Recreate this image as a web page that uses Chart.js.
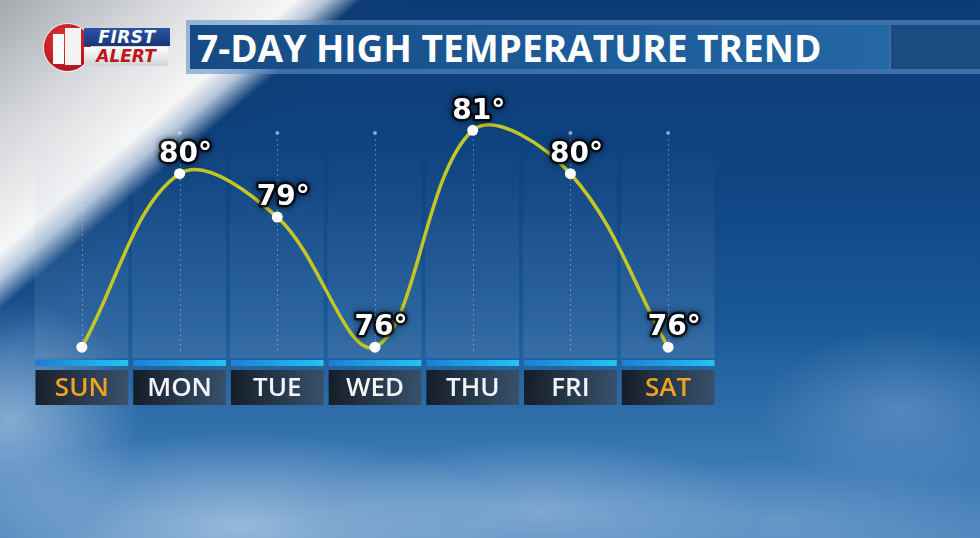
<!DOCTYPE html>
<html>
<head>
<meta charset="utf-8">
<script src="https://cdn.jsdelivr.net/npm/chart.js@4.4.0/dist/chart.umd.min.js"></script>
<style>
html, body { margin: 0; padding: 0; width: 980px; height: 538px; overflow: hidden; background: #134c88; }
#bg {
    position: absolute; left: 0; top: 0; width: 980px; height: 538px;
    background:
        linear-gradient(139.5deg, #a4a8ad 0%, #d6d8db 10%, #f6f6f7 18.3%, rgba(235,240,246,0.75) 20.3%, rgba(20,60,110,0.25) 22.5%, rgba(20,60,110,0) 26%),
        radial-gradient(ellipse 280px 90px at 240px 525px, rgba(200,218,238,0.6), rgba(200,218,238,0) 100%),
        radial-gradient(ellipse 220px 70px at 540px 510px, rgba(180,205,232,0.5), rgba(180,205,232,0) 100%),
        radial-gradient(ellipse 130px 120px at 10px 420px, rgba(190,210,235,0.6), rgba(190,210,235,0) 100%),
        radial-gradient(ellipse 140px 80px at 900px 410px, rgba(150,185,222,0.35), rgba(150,185,222,0) 100%),
        radial-gradient(ellipse 220px 60px at 780px 520px, rgba(150,185,222,0.35), rgba(150,185,222,0) 100%),
        linear-gradient(180deg, #0c3b74 0%, #0f4584 35%, #1a5897 60%, #3a78b4 85%, #5088bd 100%);
}
#logo { position: absolute; left: 44px; top: 24px; width: 130px; height: 50px; }
#logo .circle {
    position: absolute; left: 0; top: 0; width: 47px; height: 47px; border-radius: 50%;
    background: radial-gradient(circle at 40% 35%, #e2383a, #b8161c 70%, #8c0e12);
    box-shadow: 0 0 0 1px rgba(255,255,255,0.7);
}
#logo .one-a { position: absolute; left: 9px; top: 10px; width: 11px; height: 30px; background: #fbfbfb; }
#logo .one-b { position: absolute; left: 21px; top: 4px; width: 16px; height: 37px; background: #f3f3f3; }
#logo .first {
    position: absolute; left: 40px; top: 4px; width: 86px; height: 18px;
    background: linear-gradient(180deg, #2c53a8, #1a3679); color: #fff;
    font: italic 800 17px "DejaVu Sans", sans-serif; line-height: 18px; text-align: center; letter-spacing: 0.5px;
}
#logo .alert {
    position: absolute; left: 40px; top: 23px; width: 84px; height: 19px;
    background: linear-gradient(180deg, #ffffff, #cfd2d6);
    color: #c0151c; font: italic 800 17px "DejaVu Sans", sans-serif; line-height: 19px; text-align: center;
}
#titleframe { position: absolute; left: 186px; top: 20px; width: 794px; height: 54px; background: rgba(95,145,200,0.6); }
#titlebox {
    position: absolute; left: 190px; top: 25px; width: 699px; height: 44px;
    background: linear-gradient(90deg, #164a83 0%, #1c5b98 55%, #2467a5 100%);
}
#titleend { position: absolute; left: 891px; top: 25px; width: 89px; height: 44px; background: #1a4c80; }
#title {
    position: absolute; left: 197px; top: 25px; height: 44px; line-height: 46px;
    color: #fff; font-family: "Open Sans", sans-serif; font-weight: 700; white-space: nowrap;
}
#chart { position: absolute; left: 0; top: 0; }
</style>
</head>
<body>
<div id="bg"></div>
<div id="logo">
    <div class="circle"></div>
    <div class="one-a"></div>
    <div class="one-b"></div>
    <div class="first">FIRST</div>
    <div class="alert">ALERT</div>
</div>
<div id="titleframe"></div>
<div id="titlebox"></div>
<div id="titleend"></div>
<div id="title">7-DAY HIGH TEMPERATURE TREND</div>
<canvas id="chart" width="980" height="538"></canvas>
<script>
const titleText = '7-DAY HIGH TEMPERATURE TREND';
const days = ['SUN', 'MON', 'TUE', 'WED', 'THU', 'FRI', 'SAT'];
const highs = [76, 80, 79, 76, 81, 80, 76];
// the graphic shows no value above Sunday
const showValue = [false, true, true, true, true, true, true];
const weekendDays = ['SUN', 'SAT'];

// fit the title to the width of the reference banner
(function fitTitle() {
    const el = document.getElementById('title');
    const c = document.createElement('canvas').getContext('2d');
    c.font = '700 36px "Open Sans"';
    const w = c.measureText(titleText).width;
    el.style.fontSize = (36 * 625 / w).toFixed(1) + 'px';
})();

const GRID_TOP = 133;

const panelPlugin = {
    id: 'panels',
    beforeDraw(chart) {
        const { ctx, chartArea, scales } = chart;
        const x = scales.x;
        const step = x.getPixelForValue(1) - x.getPixelForValue(0);
        const half = step / 2 - 2.5;
        const bottom = chartArea.bottom;
        ctx.save();
        days.forEach((d, i) => {
            const cx = x.getPixelForValue(i);
            const left = cx - half, w = half * 2;
            // translucent column panel
            const g = ctx.createLinearGradient(0, GRID_TOP, 0, bottom);
            g.addColorStop(0, 'rgba(140,170,200,0)');
            g.addColorStop(0.45, 'rgba(140,170,200,0.09)');
            g.addColorStop(1, 'rgba(140,170,200,0.20)');
            ctx.fillStyle = g;
            ctx.fillRect(left, GRID_TOP, w, bottom - GRID_TOP);
            // faint column edges
            ctx.fillStyle = 'rgba(170,200,230,0.12)';
            ctx.fillRect(left - 1, GRID_TOP + 90, 1, bottom - GRID_TOP - 90);
            // dotted center line
            ctx.strokeStyle = 'rgba(220,235,250,0.35)';
            ctx.lineWidth = 1;
            ctx.setLineDash([2, 3]);
            ctx.beginPath();
            ctx.moveTo(Math.round(cx) + 0.5, GRID_TOP + 6);
            ctx.lineTo(Math.round(cx) + 0.5, bottom - 4);
            ctx.stroke();
            ctx.setLineDash([]);
            ctx.fillStyle = 'rgba(220,235,250,0.6)';
            ctx.beginPath();
            ctx.arc(cx, GRID_TOP, 2, 0, Math.PI * 2);
            ctx.fill();
            // cyan strip
            const gb = ctx.createLinearGradient(left, 0, left + w, 0);
            gb.addColorStop(0, '#1b7fd6');
            gb.addColorStop(1, '#21c6f2');
            ctx.fillStyle = gb;
            ctx.fillRect(left, bottom + 2, w, 6);
            // label box
            const gl = ctx.createLinearGradient(left, 0, left + w, 0);
            gl.addColorStop(0, 'rgba(20,26,33,0.95)');
            gl.addColorStop(1, 'rgba(58,78,100,0.9)');
            ctx.fillStyle = gl;
            ctx.fillRect(left, bottom + 12, w, 35);
        });
        ctx.restore();
    }
};

const valueLabelPlugin = {
    id: 'valueLabels',
    afterDatasetsDraw(chart) {
        const { ctx } = chart;
        const meta = chart.getDatasetMeta(0);
        ctx.save();
        ctx.font = 'bold 28px "DejaVu Sans"';
        ctx.textAlign = 'center';
        ctx.textBaseline = 'middle';
        ctx.lineJoin = 'round';
        meta.data.forEach((pt, i) => {
            if (!showValue[i]) return;
            const text = highs[i] + '°';
            const tx = pt.x + 6, ty = pt.y - 19;
            ctx.shadowColor = 'rgba(0,0,0,0.8)';
            ctx.shadowBlur = 6;
            ctx.strokeStyle = 'rgba(0,0,0,0.75)';
            ctx.lineWidth = 5;
            ctx.strokeText(text, tx, ty);
            ctx.shadowBlur = 0;
            ctx.fillStyle = '#ffffff';
            ctx.fillText(text, tx, ty);
        });
        ctx.restore();
    }
};

new Chart(document.getElementById('chart'), {
    type: 'line',
    data: {
        labels: days,
        datasets: [{
            data: highs,
            borderColor: '#c3c623',
            borderWidth: 3.5,
            tension: 0.36,
            pointRadius: 5.5,
            pointBackgroundColor: '#ffffff',
            pointBorderWidth: 0,
            clip: false,
            fill: false
        }]
    },
    options: {
        responsive: false,
        animation: false,
        layout: { padding: { left: 33, right: 263, top: 87, bottom: 0 } },
        plugins: { legend: { display: false }, tooltip: { enabled: false } },
        scales: {
            x: {
                offset: true,
                grid: { display: false, drawTicks: false },
                border: { display: false },
                afterFit(scale) { scale.height = 180; },
                ticks: {
                    padding: 15,
                    color: (c) => weekendDays.includes(days[c.index]) ? '#f3a21f' : '#f2f4f6',
                    font: { family: 'Open Sans', size: 26, weight: 600 }
                }
            },
            y: {
                display: false,
                min: 75.75,
                max: 82
            }
        }
    },
    plugins: [panelPlugin, valueLabelPlugin]
});
</script>
</body>
</html>
